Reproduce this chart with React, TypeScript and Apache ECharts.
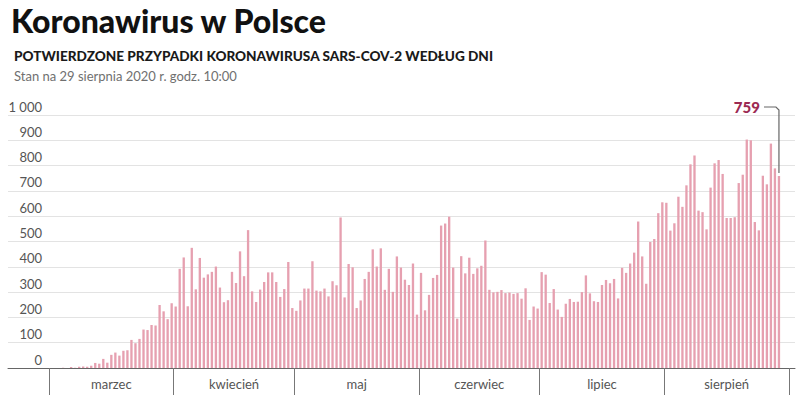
import React, { useEffect, useRef } from "react";
import * as echarts from "echarts";

const MONTHS = ["marzec", "kwiecień", "maj", "czerwiec", "lipiec", "sierpień"];
const MONTH_DAYS = [31, 30, 31, 30, 31, 31];

const MARCH = [0, 0, 0, 1, 0, 4, 1, 5, 6, 5, 9, 20, 17, 36, 21, 52, 61, 49, 68, 70, 111, 98, 115, 152, 150, 170, 168, 249, 224, 193, 256];
const APRIL = [243, 392, 437, 244, 475, 311, 435, 357, 370, 380, 401, 318, 260, 268, 380, 336, 461, 363, 545, 303, 261, 310, 340, 378, 378, 340, 281, 312, 419, 237];
const MAY = [226, 267, 314, 314, 422, 306, 303, 314, 283, 343, 327, 595, 279, 411, 398, 237, 267, 352, 380, 469, 401, 473, 309, 392, 301, 441, 397, 349, 328, 413, 211];
const JUNE = [376, 228, 289, 356, 368, 563, 571, 598, 397, 195, 442, 374, 436, 372, 394, 404, 504, 309, 299, 301, 308, 296, 298, 293, 296, 274, 315, 190, 243, 235];
const JULY = [379, 369, 257, 312, 231, 202, 254, 273, 261, 262, 300, 366, 295, 264, 261, 328, 348, 335, 352, 275, 396, 376, 413, 456, 579, 441, 333, 498, 510, 612, 655];
const AUGUST = [653, 543, 572, 677, 637, 722, 805, 840, 622, 616, 548, 713, 809, 822, 767, 593, 593, 596, 731, 764, 903, 900, 577, 544, 760, 726, 887, 789, 759];

const Y_MIN = 0;
const Y_MAX = 1000;
const Y_STEP = 100;

const TITLE = "Koronawirus w Polsce";
const SUBTITLE = "POTWIERDZONE PRZYPADKI KORONAWIRUSA SARS-COV-2 WEDŁUG DNI";
const NOTE = "Stan na 29 sierpnia 2020 r. godz. 10:00";

const FONT = "Lato, 'Noto Sans', sans-serif";

export default function App() {
  const ref = useRef<HTMLDivElement>(null);

  useEffect(() => {
    if (!ref.current) return;
    const chart = echarts.init(ref.current, undefined, { renderer: "svg" });

    const totalDays = MONTH_DAYS.reduce((a, b) => a + b, 0);
    const categories: string[] = [];
    MONTH_DAYS.forEach((n, m) => {
      for (let d = 1; d <= n; d++) categories.push(`${d} ${MONTHS[m]}`);
    });
    const observed = [...MARCH, ...APRIL, ...MAY, ...JUNE, ...JULY, ...AUGUST];
    const values: (number | null)[] = categories.map((_, i) => (i < observed.length ? observed[i] : null));
    const lastIdx = observed.length - 1;
    const lastVal = observed[lastIdx];

    const bounds: number[] = [0];
    MONTH_DAYS.forEach((n) => bounds.push(bounds[bounds.length - 1] + n));
    const mids = MONTHS.map((_, i) => (bounds[i] + bounds[i + 1]) / 2);

    const fmt = (v: number) => String(v).replace(/\B(?=(\d{3})+(?!\d))/g, " ");

    const option: any = {
      animation: false,
      textStyle: { fontFamily: FONT },
      title: [
        { text: TITLE, left: 6, top: -1, textStyle: { fontSize: 32, fontWeight: 900, color: "#111", fontFamily: FONT } },
        { text: SUBTITLE, left: 9, top: 44, textStyle: { fontSize: 13.6, fontWeight: 900, color: "#1a1a1a", fontFamily: FONT } },
        { text: NOTE, left: 9, top: 64, textStyle: { fontSize: 13, fontWeight: 400, color: "#707070", fontFamily: FONT } },
      ],
      grid: [
        { left: 8, right: 5, top: 115, bottom: 52 },
        { left: 49, right: 11, top: 115, bottom: 52 },
      ],
      xAxis: [
        {
          gridIndex: 0, type: "value", min: 0, max: 1, position: "bottom",
          axisLine: { show: true, onZero: false, lineStyle: { color: "#666", width: 1 } },
          axisTick: { show: false }, axisLabel: { show: false }, splitLine: { show: false },
        },
        {
          gridIndex: 1, type: "category", data: categories, position: "bottom", show: false,
        },
        {
          gridIndex: 1, type: "value", min: 0, max: totalDays, position: "bottom",
          axisLine: { show: false },
          axisTick: { show: true, customValues: bounds, length: 27, lineStyle: { color: "#777", width: 1 } },
          axisLabel: {
            show: true, customValues: mids, margin: 9, fontSize: 13, color: "#555", fontFamily: FONT, fontWeight: 400,
            formatter: (v: number) => {
              const i = mids.findIndex((m) => Math.abs(m - v) < 0.01);
              return i >= 0 ? MONTHS[i] : "";
            },
          },
          splitLine: { show: false },
        },
      ],
      yAxis: [
        {
          gridIndex: 0, type: "value", min: Y_MIN, max: Y_MAX, interval: Y_STEP,
          axisLine: { show: false }, axisTick: { show: false },
          splitLine: { show: true, lineStyle: { color: "#e3e3e3", width: 1 } },
          axisLabel: {
            margin: -34, align: "right", verticalAlign: "bottom", padding: [0, 0, 2, 0],
            fontSize: 13, color: "#555", fontFamily: FONT, fontWeight: 400,
            formatter: (v: number) => fmt(v),
          },
        },
        { gridIndex: 1, type: "value", min: Y_MIN, max: Y_MAX, show: false },
      ],
      series: [
        {
          type: "bar", xAxisIndex: 1, yAxisIndex: 1, data: values,
          barWidth: "58%",
          itemStyle: { color: "#e6a0b0" },
        },
      ],
    };
    chart.setOption(option);

    const [px, py] = chart.convertToPixel({ xAxisIndex: 1, yAxisIndex: 1 }, [lastIdx, lastVal]) as number[];
    const [, topY] = chart.convertToPixel({ xAxisIndex: 1, yAxisIndex: 1 }, [lastIdx, Y_MAX]) as number[];
    const ay = topY - 8;
    chart.setOption({
      graphic: [
        {
          type: "text", x: px - 19, y: ay,
          style: { text: String(lastVal), fill: "#9c2a52", font: `900 15px ${FONT}`, align: "right", verticalAlign: "middle" },
        },
        {
          type: "polyline",
          shape: { points: [[px - 15, ay], [px - 3, ay], [px, ay + 3], [px, py - 3]] },
          style: { stroke: "#666", lineWidth: 1.2, fill: null },
        },
      ],
    });

    return () => chart.dispose();
  }, []);

  return <div ref={ref} style={{ position: "fixed", left: 0, top: 0, width: 800, height: 420, background: "#fff" }} />;
}
